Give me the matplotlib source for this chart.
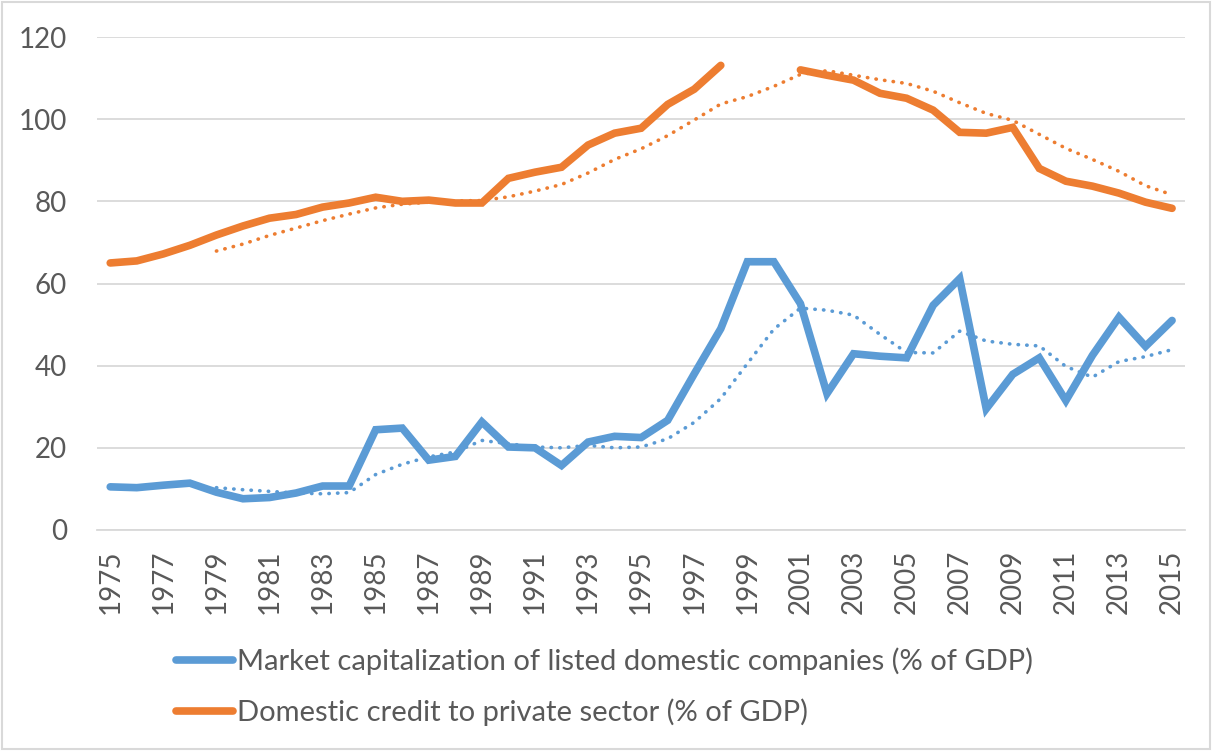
import numpy as np
import matplotlib
matplotlib.use("Agg")
import matplotlib.pyplot as plt
from matplotlib.patches import Rectangle

years = list(range(1975, 2016))

# Market capitalization of listed domestic companies (% of GDP)
market_cap = [10.5, 10.3, 10.9, 11.4, 9.2, 7.6, 7.9, 9.0, 10.7, 10.7,
              24.4, 24.8, 17.0, 17.9, 26.3, 20.2, 20.0, 15.7, 21.4, 22.8,
              22.5, 26.7, 38.0, 49.0, 65.3, 65.3, 55.1, 33.2, 42.9, 42.3,
              41.9, 54.7, 61.2, 29.5, 37.9, 41.9, 31.5, 42.5, 51.8, 44.7,
              51.0]

# Domestic credit to private sector (% of GDP), no data for 1999-2000
credit = [65.0, 65.5, 67.2, 69.3, 71.8, 74.0, 75.9, 76.8, 78.6, 79.6,
          81.0, 80.0, 80.3, 79.6, 79.6, 85.6, 87.1, 88.3, 93.7, 96.6,
          97.8, 103.6, 107.3, 113.1, np.nan, np.nan, 112.0, 110.7, 109.5, 106.3,
          105.1, 102.2, 96.8, 96.6, 98.0, 88.0, 84.9, 83.7, 82.0, 79.8,
          78.3]

# dotted trend lines (start in 1979)
market_cap_trend = [np.nan, np.nan, np.nan, np.nan, 10.3, 9.8, 9.4, 9.0, 8.8, 9.1,
                    13.5, 16.0, 17.8, 19.0, 21.8, 21.0, 20.2, 20.0, 20.6, 20.0,
                    20.2, 22.2, 26.2, 32.0, 40.5, 48.9, 54.0, 53.5, 52.3, 47.6,
                    43.2, 43.1, 48.4, 46.0, 45.2, 44.8, 39.8, 37.2, 41.0, 42.2,
                    43.9]
credit_trend = [np.nan, np.nan, np.nan, np.nan, 67.9, 69.6, 71.7, 73.5, 75.3, 76.9,
                78.4, 79.3, 79.8, 80.1, 80.2, 81.1, 82.5, 84.1, 86.9, 90.2,
                92.8, 96.0, 99.8, 103.7, 105.5, 108.0, 110.9, 111.8, 110.7, 109.6,
                108.7, 106.8, 104.0, 101.4, 99.7, 96.3, 92.9, 90.2, 87.3, 83.8,
                81.6]

tick_years = years[::2]
yticks = [0, 20, 40, 60, 80, 100, 120]

blue = "#5B9BD5"
orange = "#ED7D31"
grey_text = "#595959"
grid_col = "#D9D9D9"

plt.rcParams["font.family"] = ["Lato", "DejaVu Sans"]

fig = plt.figure(figsize=(12.12, 7.51), dpi=100)
ax = fig.add_axes([0.080, 0.2943, 0.898, 0.6564])

ax.plot(years, market_cap, color=blue, lw=5.5, solid_capstyle="round",
        solid_joinstyle="miter", label="Market capitalization of listed domestic companies (% of GDP)", zorder=3)
ax.plot(years, credit, color=orange, lw=5.5, solid_capstyle="round",
        solid_joinstyle="miter", label="Domestic credit to private sector (% of GDP)", zorder=3)
ax.plot(years, market_cap_trend, color=blue, lw=2.6, linestyle=(0, (0.1, 2.3)),
        dash_capstyle="round", zorder=2)
ax.plot(years, credit_trend, color=orange, lw=2.6, linestyle=(0, (0.1, 2.3)),
        dash_capstyle="round", zorder=2)

ax.set_xlim(1974.5, 2015.5)
ax.set_ylim(0, 120)
ax.set_yticks(yticks)
ax.set_xticks(tick_years)
ax.set_xticklabels([str(y) for y in tick_years], rotation=90)
ax.yaxis.grid(True, color=grid_col, lw=1.3)
ax.set_axisbelow(True)
for s in ["top", "right", "left"]:
    ax.spines[s].set_visible(False)
ax.spines["bottom"].set_color(grid_col)
ax.spines["bottom"].set_linewidth(1.3)
ax.tick_params(axis="both", length=0, labelsize=20, colors=grey_text)
ax.tick_params(axis="y", pad=21.5)
ax.tick_params(axis="x", pad=14)

fig.legend(loc="upper left", bbox_to_anchor=(0.1355, 0.153),
           bbox_transform=fig.transFigure, frameon=False, fontsize=21,
           labelcolor=grey_text, handlelength=1.95, handletextpad=0.13,
           labelspacing=0.8, borderaxespad=0)

fig.patches.append(Rectangle((0.002, 0.002), 0.996, 0.996, transform=fig.transFigure,
                             fill=False, edgecolor=grid_col, lw=1.5))

fig.savefig("out.png", dpi=100)
